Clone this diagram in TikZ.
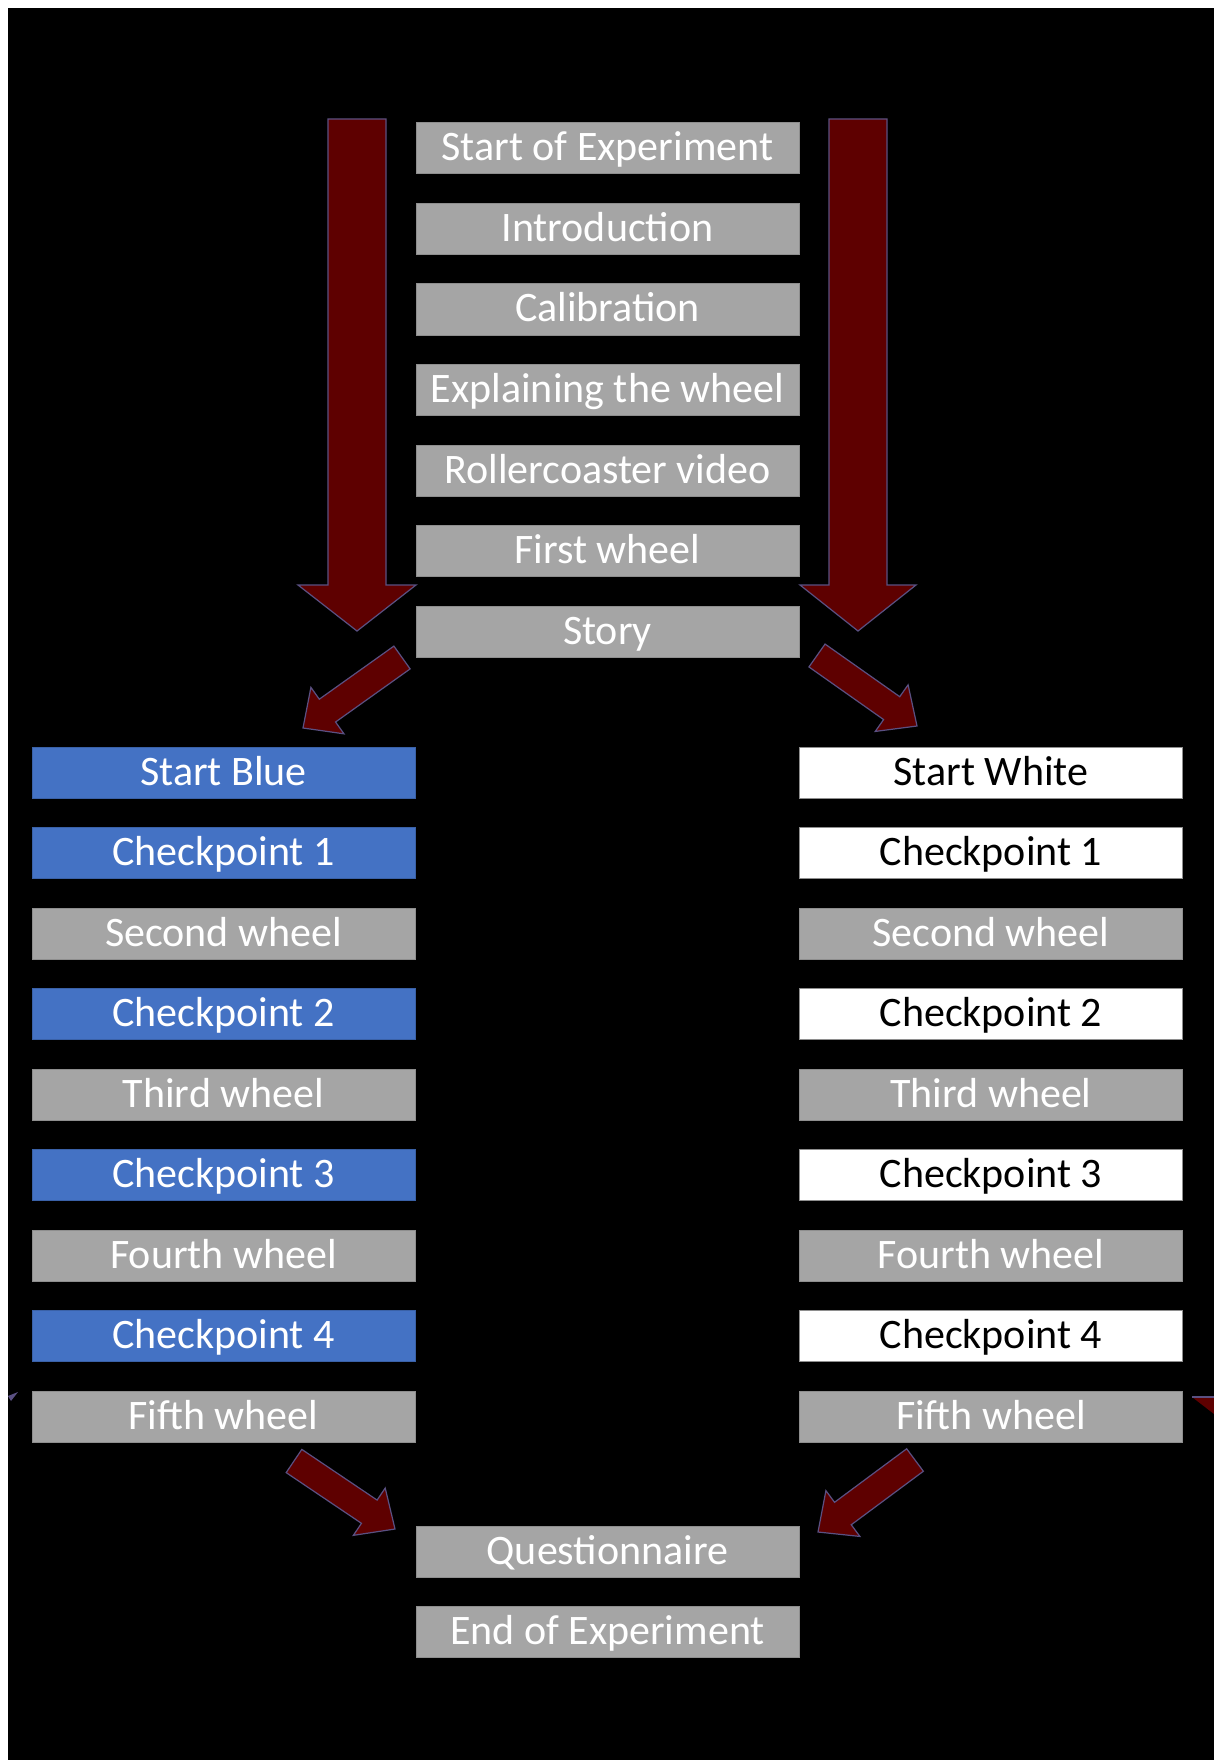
\documentclass[tikz,border=0pt]{standalone}
\usepackage{fontspec}
\setmainfont{Carlito}
\usetikzlibrary{calc}
\definecolor{boxgray}{HTML}{A5A5A5}
\definecolor{boxgrayline}{HTML}{8E8E8E}
\definecolor{boxblue}{HTML}{4472C4}
\definecolor{arrowfill}{HTML}{5E0000}
\definecolor{arrowline}{HTML}{5A5082}
\newcommand\blockarr[5]{% #1 tail, #2 tip, #3 shaft half width, #4 head half width, #5 head length
  \coordinate (hb) at ($(#2)!#5!(#1)$);
  \filldraw[blockarrow]
    ($(#1)!#3!90:(#2)$) -- ($(hb)!#3!90:(#2)$) -- ($(hb)!#4!90:(#2)$) -- (#2)
    -- ($(hb)!#4!-90:(#2)$) -- ($(hb)!#3!-90:(#2)$) -- ($(#1)!#3!-90:(#2)$) -- cycle;
}
\begin{document}
\begin{tikzpicture}[x=1pt,y=-1pt,
  box/.style={rectangle, minimum width=383pt, minimum height=51pt, inner sep=0pt,
    fill=boxgray, draw=boxgrayline, line width=1pt, text=white,
    text height=27pt, text depth=2pt, font=\fontsize{42}{50}\selectfont},
  bluebox/.style={box, fill=boxblue, draw=boxblue!85!black},
  whitebox/.style={box, fill=white, draw=boxgrayline, text=black},
  blockarrow/.style={fill=arrowfill, draw=arrowline, line width=1.2pt, line join=miter}]
\useasboundingbox (0,0) rectangle (1214,1760);
\fill[white] (0,0) rectangle (1214,1760);
\fill[black] (8,8) rectangle (1214,1760);

% centre column
\node[box] (start) at (607.5,148.5) {Start of Experiment};
\node[box] (intro) at (607.5,229) {Introduction};
\node[box] (calib) at (607.5,309.5) {Calibration};
\node[box] (explain) at (607.5,390) {Explaining the wheel};
\node[box] (roller) at (607.5,470.5) {Rollercoaster video};
\node[box] (first) at (607.5,551) {First wheel};
\node[box] (story) at (607.5,631.5) {Story};

% left column
\node[bluebox] (lstart) at (223.5,772.5) {Start Blue};
\node[bluebox] (lcp1) at (223.5,853) {Checkpoint 1};
\node[box] (lsecond) at (223.5,933.5) {Second wheel};
\node[bluebox] (lcp2) at (223.5,1014) {Checkpoint 2};
\node[box] (lthird) at (223.5,1094.5) {Third wheel};
\node[bluebox] (lcp3) at (223.5,1175) {Checkpoint 3};
\node[box] (lfourth) at (223.5,1255.5) {Fourth wheel};
\node[bluebox] (lcp4) at (223.5,1336) {Checkpoint 4};
\node[box] (lfifth) at (223.5,1416.5) {Fifth wheel};

% right column
\node[whitebox] (rstart) at (991,772.5) {Start White};
\node[whitebox] (rcp1) at (991,853) {Checkpoint 1};
\node[box] (rsecond) at (991,933.5) {Second wheel};
\node[whitebox] (rcp2) at (991,1014) {Checkpoint 2};
\node[box] (rthird) at (991,1094.5) {Third wheel};
\node[whitebox] (rcp3) at (991,1175) {Checkpoint 3};
\node[box] (rfourth) at (991,1255.5) {Fourth wheel};
\node[whitebox] (rcp4) at (991,1336) {Checkpoint 4};
\node[box] (rfifth) at (991,1416.5) {Fifth wheel};

% end
\node[box] (quest) at (607.5,1552) {Questionnaire};
\node[box] (endexp) at (607.5,1632) {End of Experiment};

% block arrows
\coordinate (lvtail) at (357,119);  \coordinate (lvtip) at (357,631);
\coordinate (rvtail) at (858,119);  \coordinate (rvtip) at (858,631);
\blockarr{lvtail}{lvtip}{29pt}{59pt}{46pt}
\blockarr{rvtail}{rvtip}{29pt}{58pt}{46pt}

\coordinate (ldtail) at (402,657.5); \coordinate (ldtip) at (303,728);
\coordinate (rdtail) at (817,655.5); \coordinate (rdtip) at (917,726);
\blockarr{ldtail}{ldtip}{14pt}{28.5pt}{30pt}
\blockarr{rdtail}{rdtip}{14pt}{28.5pt}{31pt}

\coordinate (lbtail) at (294,1461); \coordinate (lbtip) at (395,1529);
\coordinate (rbtail) at (915,1460); \coordinate (rbtip) at (818,1532);
\blockarr{lbtail}{lbtip}{14pt}{28.5pt}{31pt}
\blockarr{rbtail}{rbtip}{14pt}{28.5pt}{31pt}

% cut-off arrow fragments at the edges
\fill[arrowfill] (1192,1397) -- (1214,1397) -- (1214,1414) -- cycle;
\draw[arrowline, line width=1.2pt] (1192,1397) -- (1214,1397);
\fill[arrowline] (8,1396) -- (18,1392) -- (11,1401) -- cycle;
\end{tikzpicture}
\end{document}
